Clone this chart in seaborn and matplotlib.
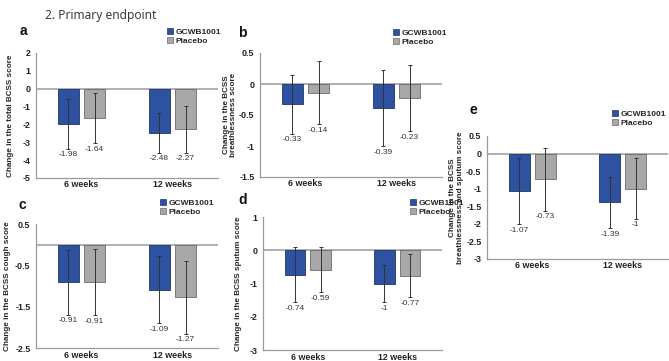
import matplotlib
matplotlib.use("Agg")
import matplotlib.pyplot as plt
import seaborn as sns
import pandas as pd
import numpy as np

categories = ["6 weeks", "12 weeks"]
groups = ["GCWB1001", "Placebo"]

a_gcwb = [-1.98, -2.48]
a_plac = [-1.64, -2.27]
a_gcwb_err = [1.38, 1.12]
a_plac_err = [1.41, 1.33]

b_gcwb = [-0.33, -0.39]
b_plac = [-0.14, -0.23]
b_gcwb_err = [0.47, 0.61]
b_plac_err = [0.51, 0.53]

c_gcwb = [-0.91, -1.09]
c_plac = [-0.91, -1.27]
c_gcwb_err = [0.79, 0.81]
c_plac_err = [0.80, 0.88]

d_gcwb = [-0.74, -1.00]
d_plac = [-0.59, -0.77]
d_gcwb_err = [0.83, 0.56]
d_plac_err = [0.68, 0.65]

e_gcwb = [-1.07, -1.39]
e_plac = [-0.73, -1.00]
e_gcwb_err = [0.94, 0.73]
e_plac_err = [0.90, 0.86]

a_ticks = [2, 1, 0, -1, -2, -3, -4, -5]
b_ticks = [0.5, 0, -0.5, -1, -1.5]
c_ticks = [0.5, -0.5, -1.5, -2.5]
d_ticks = [1, 0, -1, -2, -3]
e_ticks = [0.5, 0, -0.5, -1, -1.5, -2, -2.5, -3]

W, H = 669, 361
DPI = 100
fig = plt.figure(figsize=(W / DPI, H / DPI), dpi=DPI)
sns.set_style("white")
plt.rcParams["font.family"] = ["Liberation Sans", "DejaVu Sans"]

BLUE = "#2F52A0"
BLUE_E = "#1D356E"
GREY = "#A8A8A8"
GREY_E = "#6A6A6A"
AXC = "#9A9A9A"


def px_axes(l, t, r, b):
    return fig.add_axes([l / W, 1 - b / H, (r - l) / W, (b - t) / H])


panels = [
    dict(letter="a", box=(36, 53, 218, 178), g=a_gcwb, p=a_plac, ge=a_gcwb_err, pe=a_plac_err,
         ticks=a_ticks, ylabel="Change in the total BCSS score", lab_dx=-22,
         letter_xy=(23, 31), leg_xy=(167, 28)),
    dict(letter="b", box=(260, 53, 442, 177), g=b_gcwb, p=b_plac, ge=b_gcwb_err, pe=b_plac_err,
         ticks=b_ticks, ylabel="Change in the BCSS\nbreathlessness score", lab_dx=-23,
         letter_xy=(242, 33), leg_xy=(393, 29)),
    dict(letter="c", box=(36, 224, 218, 348), g=c_gcwb, p=c_plac, ge=c_gcwb_err, pe=c_plac_err,
         ticks=c_ticks, ylabel="Change in the BCSS cough score", lab_dx=-25,
         letter_xy=(22, 205), leg_xy=(160, 199)),
    dict(letter="d", box=(263, 217, 442, 350), g=d_gcwb, p=d_plac, ge=d_gcwb_err, pe=d_plac_err,
         ticks=d_ticks, ylabel="Change in the BCSS sputum score", lab_dx=-21,
         letter_xy=(243, 200), leg_xy=(410, 199)),
    dict(letter="e", box=(487, 136, 668, 259), g=e_gcwb, p=e_plac, ge=e_gcwb_err, pe=e_plac_err,
         ticks=e_ticks, ylabel="Change in the BCSS\nbreathlessness and sputum score", lab_dx=-23,
         letter_xy=(473, 110), leg_xy=(612, 110)),
]

for pn in panels:
    ax = px_axes(*pn["box"])
    df = pd.DataFrame({
        "week": categories * 2,
        "group": [groups[0]] * 2 + [groups[1]] * 2,
        "value": list(pn["g"]) + list(pn["p"]),
        "err": list(pn["ge"]) + list(pn["pe"]),
    })
    sns.barplot(data=df, x="week", y="value", hue="group", order=categories,
                hue_order=groups, palette=[BLUE, GREY], errorbar=None,
                width=0.572, gap=0.2, saturation=1, ax=ax, legend=True, zorder=2)
    edge_cols = [BLUE_E, GREY_E]
    bar_conts = list(ax.containers)
    for ci, cont in enumerate(bar_conts):
        sub = df[df["group"] == groups[ci]].set_index("week").loc[categories]
        xs = [bar.get_x() + bar.get_width() / 2 for bar in cont]
        for bar in cont:
            bar.set_edgecolor(edge_cols[ci])
            bar.set_linewidth(0.6)
        ax.errorbar(xs, sub["value"].values, yerr=sub["err"].values, fmt="none",
                    ecolor="#333333", elinewidth=0.7, capsize=1.3, capthick=0.7, zorder=3)
        for x, v, e in zip(xs, sub["value"].values, sub["err"].values):
            ax.annotate(f"{v:g}", xy=(x, v - e), xytext=(0, -1.8), textcoords="offset points",
                        ha="center", va="top", fontsize=6.0, color="#333333")
    ax.axhline(0, color=AXC, lw=1.1, zorder=1)
    ax.set_xlim(-0.5, 1.5)
    tk = pn["ticks"]
    ax.set_ylim(min(tk), max(tk))
    ax.set_yticks(tk)
    ax.set_yticklabels([f"{t:g}" for t in tk], fontsize=6.4, fontweight="bold")
    ax.set_xticks(range(len(categories)))
    ax.set_xticklabels(categories, fontsize=6.4, fontweight="bold")
    ax.set_xlabel("")
    ax.set_ylabel(pn["ylabel"], fontsize=5.9, fontweight="bold", linespacing=1.1)
    l, t, r, b = pn["box"]
    ax.yaxis.set_label_coords(pn["lab_dx"] / (r - l), 0.5)
    for s in ["top", "right"]:
        ax.spines[s].set_visible(False)
    for s in ["left", "bottom"]:
        ax.spines[s].set_color(AXC)
        ax.spines[s].set_linewidth(0.9)
    ax.tick_params(axis="y", length=2, width=0.7, color=AXC, pad=2, labelcolor="#222222")
    ax.tick_params(axis="x", length=3, width=0.7, color=AXC, pad=0.3, direction="inout",
                   labelcolor="#222222")
    ax.grid(False)
    handles, labels = ax.get_legend_handles_labels()
    if ax.get_legend() is not None:
        ax.get_legend().remove()
    lx, ly = pn["leg_xy"]
    leg = ax.legend(handles, labels, loc="upper left", bbox_to_anchor=(lx / W, 1 - ly / H),
                    bbox_transform=fig.transFigure, frameon=False, handlelength=0.7,
                    handleheight=0.7, handletextpad=0.3, labelspacing=0.15, borderpad=0,
                    borderaxespad=0, prop={"size": 6.0, "weight": "bold"})
    for h, ec in zip(leg.legend_handles, edge_cols):
        h.set_edgecolor(ec)
        h.set_linewidth(0.5)
    fx, fy = pn["letter_xy"]
    fig.text(fx / W, 1 - fy / H, pn["letter"], fontsize=10, fontweight="bold",
             ha="center", va="center", color="#111111")

fig.text(45 / W, 1 - 15 / H, "2. Primary endpoint", fontsize=8.6, color="#3a3a3a",
         ha="left", va="center", family=["Noto Sans", "DejaVu Sans"])

fig.savefig("out.png", dpi=DPI)
